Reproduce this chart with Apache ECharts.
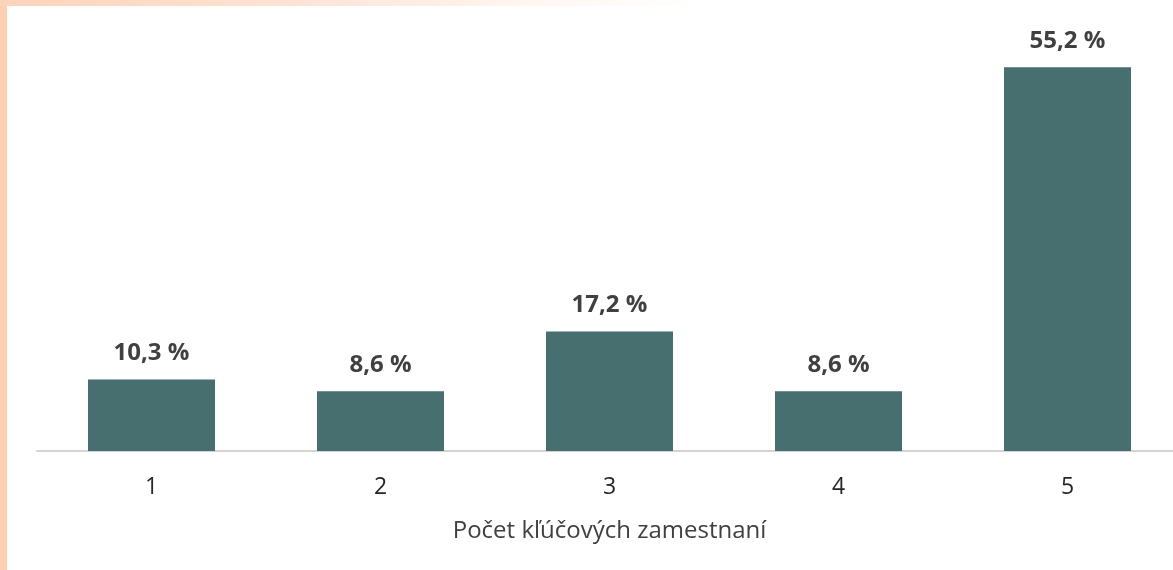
<!DOCTYPE html>
<html>
<head>
<meta charset="utf-8">
<script src="https://cdn.jsdelivr.net/npm/echarts@6/dist/echarts.min.js"></script>
<style>
  html, body { margin: 0; padding: 0; background: #ffffff; }
  #chart { width: 1173px; height: 570px; }
</style>
</head>
<body>
<div id="chart"></div>
<script>
// Share of respondents by number of key occupations
const categories = ['1', '2', '3', '4', '5'];
const shares = [10.3, 8.6, 17.2, 8.6, 55.2];
const axisTitle = 'Počet kľúčových zamestnaní';

const chart = echarts.init(document.getElementById('chart'), null, { renderer: 'canvas' });

chart.setOption({
  animation: false,
  backgroundColor: '#ffffff',
  graphic: [
    // slide frame strips along the left and top edges
    {
      type: 'rect', left: 0, top: 0, z: 100,
      shape: { width: 7, height: 570 },
      style: { fill: '#fdcfb3' }
    },
    {
      type: 'rect', left: 0, top: 0, z: 100,
      shape: { width: 1173, height: 6 },
      style: {
        fill: new echarts.graphic.LinearGradient(0, 0, 1, 0, [
          { offset: 0, color: '#fdd3ba' },
          { offset: 0.25, color: '#fde3d4' },
          { offset: 0.45, color: '#fff6f1' },
          { offset: 0.6, color: '#ffffff' },
          { offset: 1, color: '#ffffff' }
        ])
      }
    }
  ],
  // the plot runs past the right edge of the canvas
  grid: { left: 37, width: 1145, top: 34, bottom: 119, outerBoundsMode: 'none' },
  xAxis: {
    type: 'category',
    data: categories,
    name: axisTitle,
    nameLocation: 'middle',
    nameGap: 68,
    nameTextStyle: { fontFamily: 'Open Sans', fontSize: 24, color: '#404040', verticalAlign: 'top' },
    axisLine: { show: true, lineStyle: { color: '#d4d4d4', width: 2 } },
    axisTick: { show: false },
    axisLabel: { margin: 25, fontFamily: 'Open Sans', fontSize: 23, color: '#262626' }
  },
  yAxis: {
    type: 'value',
    min: 0,
    max: 60,
    show: false,
    splitLine: { show: false }
  },
  series: [{
    type: 'bar',
    data: shares,
    barWidth: 127,
    itemStyle: { color: '#476f6f' },
    label: {
      show: true,
      position: 'top',
      distance: 14,
      fontFamily: 'Open Sans',
      fontWeight: 'bold',
      fontSize: 24,
      color: '#404040',
      formatter: p => p.value.toFixed(1).replace('.', ',') + ' %'
    }
  }]
});
</script>
</body>
</html>
